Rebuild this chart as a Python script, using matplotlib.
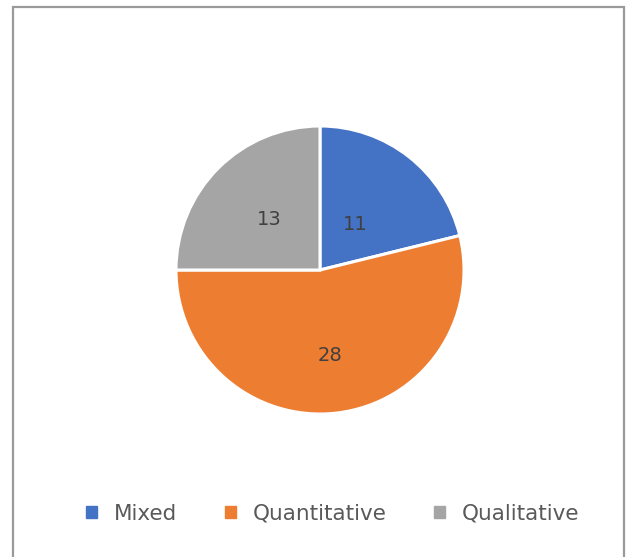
import numpy as np
import matplotlib.pyplot as plt
from matplotlib.patches import Rectangle

# 研究方法分佈
categories = ['Mixed', 'Quantitative', 'Qualitative']
counts = [11, 28, 13]
colors = ['#4472C4', '#ED7D31', '#A5A5A5']

W, H = 626, 557
fig = plt.figure(figsize=(W / 100, H / 100), dpi=100)

# 外框
fig.patches.append(Rectangle((13 / W, -0.05), (624 - 13) / W, (H - 7) / H + 0.05,
                             transform=fig.transFigure, fill=False,
                             edgecolor='#9a9a9a', linewidth=1.6))

# 圓餅圖位置 (像素)
cx, cy, r = 320, H - 270, 144
ax = fig.add_axes([(cx - r) / W, (cy - r) / H, 2 * r / W, 2 * r / H])

wedges, _ = ax.pie(counts, colors=colors, startangle=90, counterclock=False,
                   radius=1, wedgeprops=dict(edgecolor='white', linewidth=2.2))
ax.set_xlim(-1, 1)
ax.set_ylim(-1, 1)
ax.set_aspect('equal')
ax.axis('off')

# 數值標籤
label_r = [0.4, 0.6, 0.5]
for w, n, lr in zip(wedges, counts, label_r):
    ang = np.deg2rad((w.theta1 + w.theta2) / 2)
    ax.text(lr * np.cos(ang), lr * np.sin(ang), str(n), ha='center', va='center',
            fontsize=14, color='#404040')

handles = [Rectangle((0, 0), 1, 1, color=c) for c in colors]
fig.legend(handles, categories, loc='center', bbox_to_anchor=(333 / W, 43 / H),
           ncol=3, frameon=False, fontsize=15.5, handlelength=0.5, handleheight=0.5,
           handletextpad=0.8, columnspacing=2.2, labelcolor='#595959')

plt.savefig('out.png', dpi=100)
